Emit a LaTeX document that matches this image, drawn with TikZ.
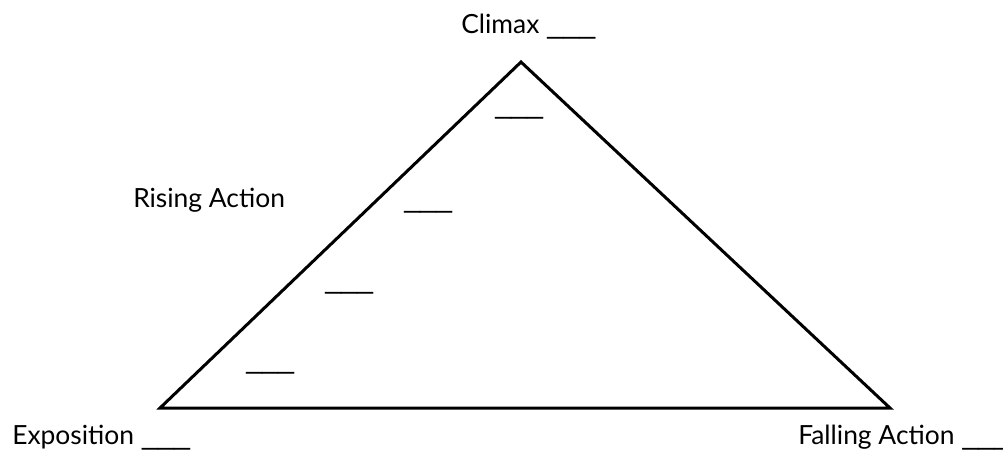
\documentclass[tikz,border=0pt]{standalone}
\usepackage{fontspec}
\setmainfont{Lato}
\newfontfamily\blankfont{Liberation Sans}
\newcommand\blanks{{\blankfont\fontsize{21.5}{24}\selectfont\_\_\_}}
\usetikzlibrary{positioning}

\begin{document}
\begin{tikzpicture}[x=0.75pt,y=-0.75pt,side/.style={line width=2.25pt, line join=miter},label/.style={font=\fontsize{19.8}{23}\selectfont, inner sep=0pt, anchor=base west},blank/.style={inner sep=0pt, anchor=base west}]
\useasboundingbox (0,0) rectangle (1003,450);
\coordinate (L) at (160,408); \coordinate (T) at (521,62); \coordinate (R) at (890,408);
\draw[side] (L) -- (T) -- (R) -- cycle;
\node[label] (climax) at (461,33) {Climax\hspace{6pt}\blanks};
\node[label] (rising) at (133,207) {Rising Action};
\node[label] (expo) at (12,444) {Exposition\hspace{6pt}\blanks};
\node[label] (falling) at (798,444) {Falling Action\hspace{6pt}\blanks};
\node[blank] (b1) at (495,113) {\blanks};
\node[blank] (b2) at (404,207) {\blanks};
\node[blank] (b3) at (325,288) {\blanks};
\node[blank] (b4) at (246,368) {\blanks};
\end{tikzpicture}
\end{document}
